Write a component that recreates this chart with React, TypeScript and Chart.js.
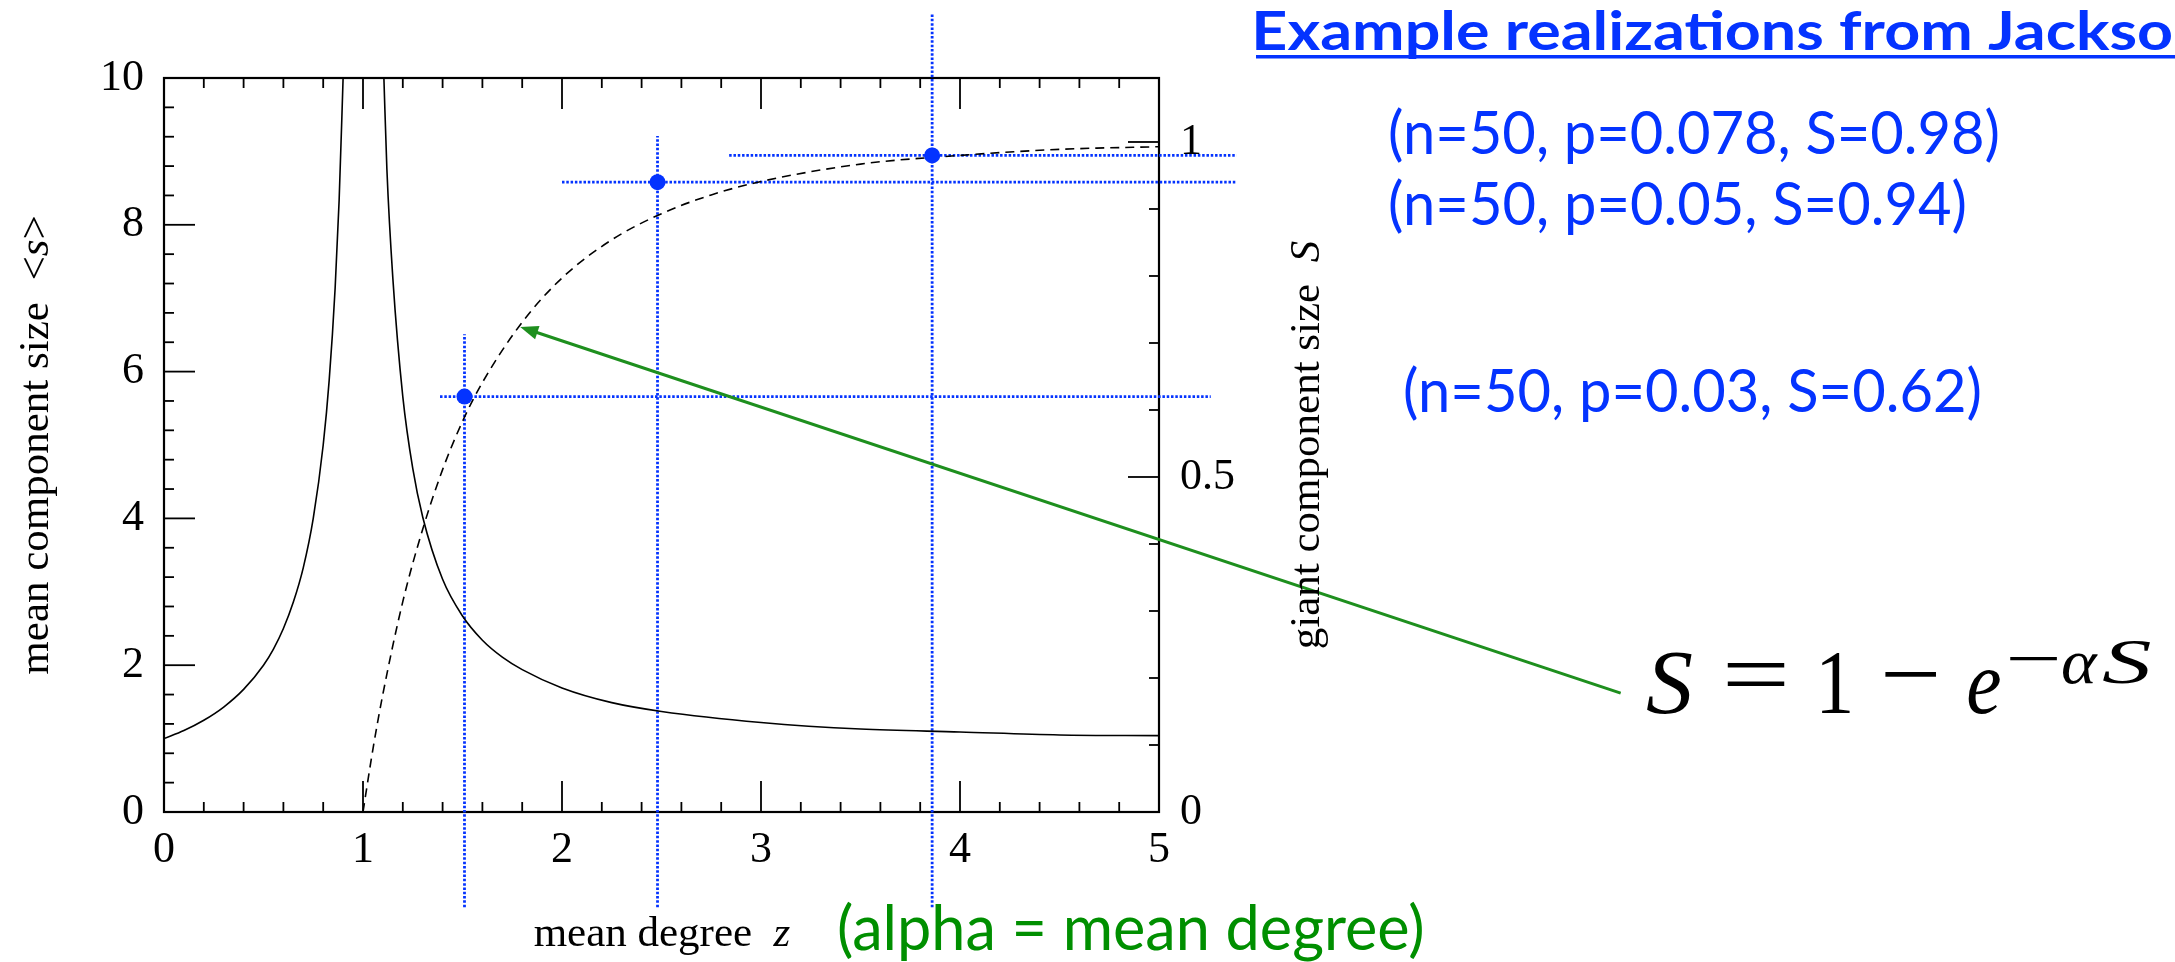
import { useEffect, useRef } from "react";
import { Chart, registerables } from "chart.js";

Chart.register(...registerables);

const WIDTH = 2175;
const HEIGHT = 962;
const PLOT_LEFT = 164;
const PLOT_RIGHT = 1159;
const PLOT_TOP = 78;
const PLOT_BOTTOM = 812;

const BLUE = "#0433FF";
const GREEN_TEXT = "#008F00";
const GREEN_LINE = "#1E8F1E";
const SERIF = '"Liberation Serif", "Times New Roman", serif';
const SANS = 'Lato, "Open Sans", sans-serif';

// mean component size <s> below the transition (z < 1)
const subZ = [0, 0.1, 0.2, 0.3, 0.4, 0.5, 0.55, 0.6, 0.65, 0.7, 0.75, 0.8, 0.83, 0.86, 0.88, 0.9];
const subS = [1.0, 1.11, 1.25, 1.43, 1.67, 2.0, 2.22, 2.5, 2.86, 3.33, 4.0, 5.0, 5.88, 7.14, 8.33, 10.0];

// mean component size <s> above the transition (z > 1)
const supZ = [1.105, 1.12, 1.15, 1.2, 1.25, 1.3, 1.4, 1.5, 1.6, 1.7, 1.8, 2.0, 2.25, 2.5, 3.0, 3.5, 4.0, 4.5, 5.0];
const supS = [10.0, 8.76, 7.27, 5.66, 4.68, 4.02, 3.17, 2.67, 2.34, 2.11, 1.94, 1.69, 1.49, 1.37, 1.22, 1.13, 1.09, 1.05, 1.04];

// giant component size S (right axis)
const giantZ = [1.0, 1.05, 1.1, 1.2, 1.3, 1.4, 1.5, 1.6, 1.8, 2.0, 2.25, 2.5, 2.75, 3.0, 3.5, 4.0, 4.5, 5.0];
const giantS = [0, 0.094, 0.176, 0.314, 0.422, 0.511, 0.583, 0.641, 0.731, 0.797, 0.854, 0.893, 0.921, 0.941, 0.967, 0.98, 0.989, 0.993];

// sampled networks (n = 50) and their cross-hair extents
const sampleZ = [1.51, 2.48, 3.86];
const sampleS = [0.62, 0.94, 0.98];
const sampleVLow = [-0.142, -0.142, -0.142];
const sampleVHigh = [0.713, 1.009, 1.191];
const sampleHLow = [1.387, 2.0, 2.84];
const sampleHHigh = [5.26, 5.39, 5.39];

// tick values
const xTickStep = 1;
const xMinorStep = 0.2;
const yTickStep = 2;
const yMinorStep = 0.4;
const y1TickStep = 0.5;
const y1MinorStep = 0.1;
const y1Max = 1.0955;

// arrow from the equation to the S curve (tail on the left scale, tip on the S scale)
const arrowTailZ = 7.32;
const arrowTailS = 1.62;
const arrowTipZ = 1.79;
const arrowTipGiant = 0.724;

const titleText = "Example realizations from Jackso";
const sampleLabels = [
  "(n=50, p=0.078, S=0.98)",
  "(n=50, p=0.05, S=0.94)",
  "(n=50, p=0.03, S=0.62)",
];
const alphaNote = "(alpha = mean degree)";

const pts = (xs: number[], ys: number[]) => xs.map((x, i) => ({ x, y: ys[i] }));

function fitInk(
  ctx: CanvasRenderingContext2D,
  text: string,
  font: string,
  color: string,
  x0: number,
  x1: number,
  baseline: number
) {
  ctx.save();
  ctx.font = font;
  ctx.fillStyle = color;
  ctx.textAlign = "left";
  ctx.textBaseline = "alphabetic";
  const m = ctx.measureText(text);
  const ink = m.actualBoundingBoxLeft + m.actualBoundingBoxRight;
  const k = (x1 - x0) / ink;
  ctx.translate(x0 + m.actualBoundingBoxLeft * k, baseline);
  ctx.scale(k, 1);
  ctx.fillText(text, 0, 0);
  ctx.restore();
}

type Part = { text: string; italic?: boolean };

function drawRich(ctx: CanvasRenderingContext2D, parts: Part[], size: number) {
  const fontOf = (p: Part) => `${p.italic ? "italic " : ""}${size}px ${SERIF}`;
  let total = 0;
  for (const p of parts) {
    ctx.font = fontOf(p);
    total += ctx.measureText(p.text).width;
  }
  let x = -total / 2;
  ctx.textAlign = "left";
  ctx.textBaseline = "alphabetic";
  for (const p of parts) {
    ctx.font = fontOf(p);
    ctx.fillText(p.text, x, 0);
    x += ctx.measureText(p.text).width;
  }
}

const framePlugin = {
  id: "frameTicks",
  beforeDatasetsDraw(chart: any) {
    const { ctx, chartArea: a, scales } = chart;
    ctx.save();
    ctx.strokeStyle = "#000";
    ctx.lineWidth = 1.8;
    const major = 31;
    const minor = 10;
    // x ticks on bottom and top
    for (let i = 0; i <= Math.round(5 / xMinorStep); i++) {
      const v = i * xMinorStep;
      const px = scales.x.getPixelForValue(v);
      const len = Math.abs(v / xTickStep - Math.round(v / xTickStep)) < 1e-6 ? major : minor;
      ctx.beginPath();
      ctx.moveTo(px, a.bottom);
      ctx.lineTo(px, a.bottom - len);
      ctx.moveTo(px, a.top);
      ctx.lineTo(px, a.top + len);
      ctx.stroke();
    }
    // left ticks
    for (let i = 0; i <= Math.round(10 / yMinorStep); i++) {
      const v = i * yMinorStep;
      const py = scales.y.getPixelForValue(v);
      const len = Math.abs(v / yTickStep - Math.round(v / yTickStep)) < 1e-6 ? major : minor;
      ctx.beginPath();
      ctx.moveTo(a.left, py);
      ctx.lineTo(a.left + len, py);
      ctx.stroke();
    }
    // right ticks
    for (let i = 0; i <= 10; i++) {
      const v = i * y1MinorStep;
      const py = scales.y1.getPixelForValue(v);
      const len = Math.abs(v / y1TickStep - Math.round(v / y1TickStep)) < 1e-6 ? major : minor;
      ctx.beginPath();
      ctx.moveTo(a.right, py);
      ctx.lineTo(a.right - len, py);
      ctx.stroke();
    }
    ctx.lineWidth = 2.2;
    ctx.strokeRect(a.left, a.top, a.right - a.left, a.bottom - a.top);
    ctx.restore();
  },
  afterDatasetsDraw(chart: any) {
    const { ctx, scales } = chart;
    const x0 = scales.x.getPixelForValue(arrowTailZ);
    const y0 = scales.y.getPixelForValue(arrowTailS);
    const x1 = scales.x.getPixelForValue(arrowTipZ);
    const y1 = scales.y1.getPixelForValue(arrowTipGiant);
    const ang = Math.atan2(y1 - y0, x1 - x0);
    const headLen = 18;
    const headHalf = 7;
    ctx.save();
    ctx.strokeStyle = GREEN_LINE;
    ctx.fillStyle = GREEN_LINE;
    ctx.lineWidth = 3;
    ctx.beginPath();
    ctx.moveTo(x0, y0);
    ctx.lineTo(x1 - Math.cos(ang) * headLen * 0.8, y1 - Math.sin(ang) * headLen * 0.8);
    ctx.stroke();
    ctx.beginPath();
    ctx.moveTo(x1, y1);
    const bx = x1 - Math.cos(ang) * headLen;
    const by = y1 - Math.sin(ang) * headLen;
    ctx.lineTo(bx + Math.sin(ang) * headHalf, by - Math.cos(ang) * headHalf);
    ctx.lineTo(bx - Math.sin(ang) * headHalf, by + Math.cos(ang) * headHalf);
    ctx.closePath();
    ctx.fill();
    ctx.restore();
  },
  afterDraw(chart: any) {
    const { ctx, chartArea: a } = chart;
    const midY = (a.top + a.bottom) / 2;
    ctx.save();
    ctx.fillStyle = "#000";

    // axis titles
    ctx.save();
    ctx.translate(48, midY);
    ctx.rotate(-Math.PI / 2);
    drawRich(ctx, [{ text: "mean component size  <" }, { text: "s", italic: true }, { text: ">" }], 43);
    ctx.restore();

    ctx.save();
    ctx.translate(1319, midY);
    ctx.rotate(-Math.PI / 2);
    drawRich(ctx, [{ text: "giant component size  " }, { text: "S", italic: true }], 43);
    ctx.restore();

    ctx.save();
    ctx.translate(662, 946);
    drawRich(ctx, [{ text: "mean degree  " }, { text: "z", italic: true }], 43);
    ctx.restore();

    // title
    fitInk(ctx, titleText, `bold 54px ${SANS}`, BLUE, 1256, 2172, 50);
    ctx.fillStyle = BLUE;
    ctx.fillRect(1256, 55, WIDTH - 1256, 3.5);

    // sample annotations
    fitInk(ctx, sampleLabels[0], `60px ${SANS}`, BLUE, 1390, 1998, 154);
    fitInk(ctx, sampleLabels[1], `60px ${SANS}`, BLUE, 1390, 1965, 225);
    fitInk(ctx, sampleLabels[2], `60px ${SANS}`, BLUE, 1405, 1980, 412);

    // green note
    fitInk(ctx, alphaNote, `62px ${SANS}`, GREEN_TEXT, 839, 1422, 950);

    // equation S = 1 - e^{-alpha S}
    const big = `92px ${SERIF}`;
    const bigIt = `italic 92px ${SERIF}`;
    const sup = `64px ${SERIF}`;
    const supIt = `italic 64px ${SERIF}`;
    fitInk(ctx, "S", bigIt, "#000", 1647, 1692, 713);
    fitInk(ctx, "=", big, "#000", 1727, 1785, 705);
    fitInk(ctx, "1", big, "#000", 1822, 1850, 713);
    fitInk(ctx, "\u2212", big, "#000", 1885, 1937, 705);
    fitInk(ctx, "e", bigIt, "#000", 1968, 2000, 713);
    fitInk(ctx, "\u2212", sup, "#000", 2010, 2057, 680);
    fitInk(ctx, "\u03b1", supIt, "#000", 2062, 2098, 683);
    fitInk(ctx, "S", supIt, "#000", 2102, 2150, 683);

    ctx.restore();
  },
};

function dottedSegment(a: { x: number; y: number }, b: { x: number; y: number }) {
  return {
    data: [a, b],
    yAxisID: "y1",
    showLine: true,
    borderColor: BLUE,
    borderWidth: 2.8,
    borderDash: [2.5, 1.8],
    pointRadius: 0,
    clip: false,
    order: 5,
  };
}

export default function App() {
  const canvasRef = useRef<HTMLCanvasElement>(null);

  useEffect(() => {
    const canvas = canvasRef.current;
    if (!canvas) return;

    const bars: any[] = [];
    sampleZ.forEach((z, i) => {
      bars.push(dottedSegment({ x: z, y: sampleVLow[i] }, { x: z, y: sampleVHigh[i] }));
      bars.push(dottedSegment({ x: sampleHLow[i], y: sampleS[i] }, { x: sampleHHigh[i], y: sampleS[i] }));
    });

    const tickFont = { family: SERIF, size: 44 };

    const chart = new Chart(canvas, {
      type: "scatter",
      data: {
        datasets: [
          {
            data: pts(sampleZ, sampleS),
            yAxisID: "y1",
            pointRadius: 8,
            pointBackgroundColor: BLUE,
            pointBorderWidth: 0,
            showLine: false,
            order: 0,
          },
          {
            data: pts(subZ, subS),
            yAxisID: "y",
            showLine: true,
            borderColor: "#000",
            borderWidth: 1.6,
            pointRadius: 0,
            cubicInterpolationMode: "monotone",
            order: 1,
          },
          {
            data: pts(supZ, supS),
            yAxisID: "y",
            showLine: true,
            borderColor: "#000",
            borderWidth: 1.6,
            pointRadius: 0,
            cubicInterpolationMode: "monotone",
            order: 1,
          },
          {
            data: pts(giantZ, giantS),
            yAxisID: "y1",
            showLine: true,
            borderColor: "#000",
            borderWidth: 1.6,
            borderDash: [9, 6],
            pointRadius: 0,
            cubicInterpolationMode: "monotone",
            order: 1,
          },
          ...bars,
        ],
      },
      options: {
        responsive: false,
        maintainAspectRatio: false,
        devicePixelRatio: 1,
        animation: false,
        events: [],
        layout: { padding: { top: PLOT_TOP, left: 0, right: 0, bottom: 0 } },
        plugins: {
          legend: { display: false },
          tooltip: { enabled: false },
          title: { display: false },
        },
        scales: {
          x: {
            type: "linear",
            position: "bottom",
            min: 0,
            max: 5,
            grid: { display: false, drawTicks: false },
            border: { display: false },
            ticks: {
              stepSize: xTickStep,
              font: tickFont,
              color: "#000",
              padding: 12,
              maxRotation: 0,
              autoSkip: false,
            },
            afterFit: (s: any) => {
              s.height = HEIGHT - PLOT_BOTTOM;
            },
          },
          y: {
            type: "linear",
            position: "left",
            min: 0,
            max: 10,
            grid: { display: false, drawTicks: false },
            border: { display: false },
            ticks: { stepSize: yTickStep, font: tickFont, color: "#000", padding: 20 },
            afterFit: (s: any) => {
              s.width = PLOT_LEFT;
            },
          },
          y1: {
            type: "linear",
            position: "right",
            min: 0,
            max: y1Max,
            grid: { display: false, drawTicks: false },
            border: { display: false },
            ticks: {
              stepSize: y1TickStep,
              includeBounds: false,
              font: tickFont,
              color: "#000",
              padding: 21,
              callback: (v: any) => String(Math.round(Number(v) * 10) / 10),
            },
            afterFit: (s: any) => {
              s.width = WIDTH - PLOT_RIGHT;
            },
          },
        },
      } as any,
      plugins: [framePlugin],
    });

    return () => chart.destroy();
  }, []);

  return (
    <div style={{ position: "absolute", left: 0, top: 0, width: WIDTH, height: HEIGHT, background: "#fff" }}>
      <canvas
        ref={canvasRef}
        width={WIDTH}
        height={HEIGHT}
        style={{ display: "block", width: WIDTH, height: HEIGHT }}
      />
    </div>
  );
}
